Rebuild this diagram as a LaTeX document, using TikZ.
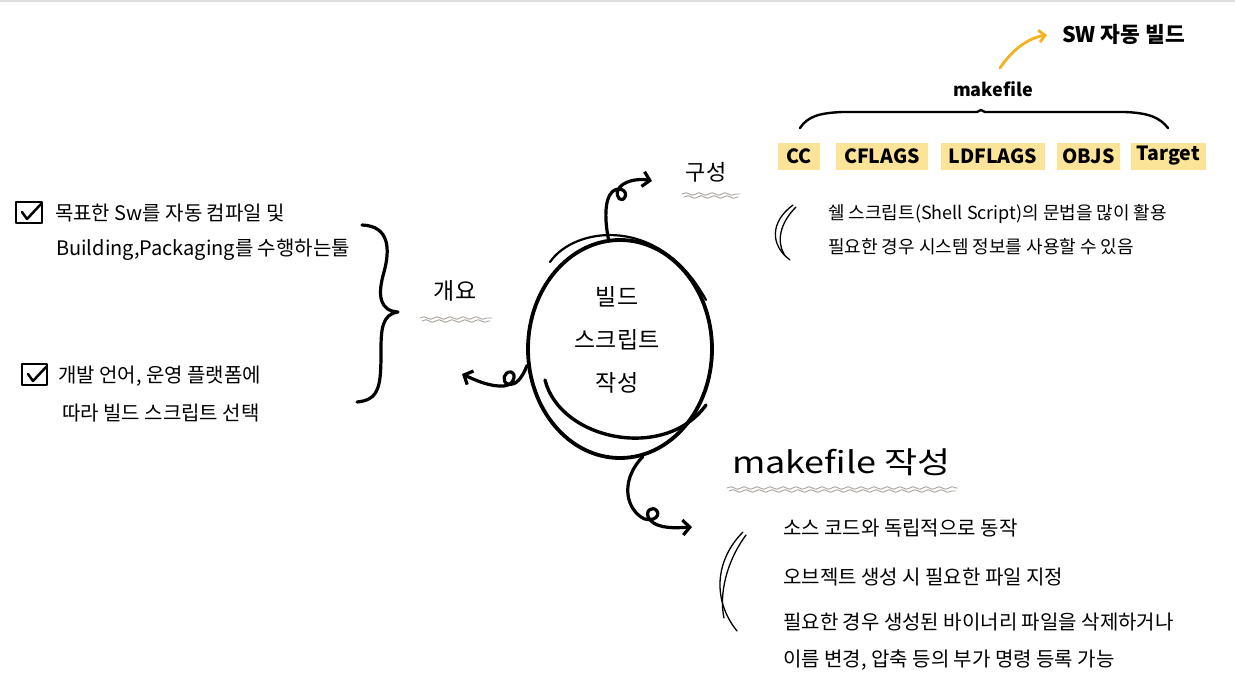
\documentclass[tikz,border=0pt]{standalone}
\usepackage{fontspec}
\usepackage{graphicx}
\newfontfamily\kr{Noto Sans CJK KR}
\usetikzlibrary{arrows.meta,decorations.pathmorphing,shapes.geometric}
\definecolor{hl}{RGB}{251,228,152}
\definecolor{orangec}{RGB}{245,178,30}
\definecolor{wavec}{RGB}{172,165,158}
\tikzset{
  hand/.style={font=\kr\fontsize{20}{23}\selectfont, anchor=west, inner sep=0pt},
  handsm/.style={font=\kr\fontsize{18}{21}\selectfont, anchor=west, inner sep=0pt},
  ybox/.style={fill=hl, minimum height=27pt, inner sep=0pt, font=\kr\bfseries\fontsize{19.5}{22}\selectfont},
  conn/.style={line width=3.2pt, -{Straight Barb[length=7pt,width=15pt]}},
  wavy/.style={draw=wavec, line width=0.9pt, decorate, decoration={snake, amplitude=1.3pt, segment length=13pt}},
  tick/.style={line width=1.3pt},
  chk/.style={line width=2.5pt},
  brace/.style={line width=3.2pt}
}
\begin{document}
\begin{tikzpicture}[x=1pt,y=-1pt,line cap=round,line join=round]
\fill[white] (0,0) rectangle (1235,696);
\useasboundingbox (0,0) rectangle (1235,696);
\draw[gray!25,line width=2pt] (0,1) -- (1235,1);

% top right
\node[font=\kr\bfseries\fontsize{21.5}{24}\selectfont, anchor=west, inner sep=0pt] (sw) at (1062,34) {SW 자동 빌드};
\node[font=\kr\bfseries\fontsize{18}{21}\selectfont, inner sep=0pt] (mkf) at (993,89) {makefile};
\coordinate (orS) at (1000,68);
\coordinate (orT) at (1047,35);
\draw[orangec, line width=2.8pt, -{Straight Barb[length=6pt,width=12pt]}] (orS) .. controls (1012,50) and (1028,38) .. (orT);
\draw[line width=2.4pt] (800,128) .. controls (808,116) and (820,113) .. (842,112) -- (977,112) -- (981,110) -- (985,112) -- (1125,112) .. controls (1150,113) and (1160,118) .. (1168,128);

\node[ybox, minimum width=42pt] (cc) at (799,156) {CC};
\node[ybox, minimum width=92pt] (cfl) at (882,156) {CFLAGS};
\node[ybox, minimum width=104pt] (ldf) at (993,156) {LDFLAGS};
\node[ybox, minimum width=63pt] (objs) at (1088.5,156) {OBJS};
\node[ybox, minimum width=75pt] (tgt) at (1168,156) {Target};

% 구성
\node[font=\kr\fontsize{22}{26}\selectfont, inner sep=0pt] (gs) at (706,172) {구성};
\draw[wavy] (682,194) -- (740,194);
\draw[wavy] (684,197) -- (738,197);
\draw[tick] (793,205) .. controls (770,222) and (770,245) .. (790,260);
\draw[tick] (796,207) .. controls (779,224) and (777,242) .. (784,254);
\node[handsm] (l1) at (828,214) {쉘 스크립트(Shell Script)의 문법을 많이 활용};
\node[handsm] (l2) at (828,247) {필요한 경우 시스템 정보를 사용할 수 있음};

% center
\node[draw, ellipse, line width=3.8pt, minimum width=184pt, minimum height=218pt] (core) at (620,349) {};
\draw[line width=2.2pt] (550,262) .. controls (575,226) and (660,215) .. (706,300);
\draw[line width=3.4pt] (545,380) .. controls (560,440) and (665,462) .. (706,405);
\node[font=\kr\fontsize{23}{43}\selectfont, align=center, inner sep=0pt] (ctext) at (617,340) {빌드\\스크립트\\작성};

\coordinate (topTip) at (652,181);
\coordinate (leftTip) at (462,374);
\coordinate (botTip) at (692,527);
\draw[conn] (core.96) .. controls (605,222) and (604,200) .. (612,192) .. controls (618,186) and (628,190) .. (625,197) .. controls (622,203) and (615,198) .. (618,190) .. controls (622,181) and (638,178) .. (topTip);
\draw[conn] (core.190) .. controls (522,378) and (516,386) .. (508,384) .. controls (501,382) and (504,371) .. (511,372) .. controls (517,374) and (514,385) .. (504,386) .. controls (490,387) and (475,380) .. (leftTip);
\draw[conn] (core.282) .. controls (622,478) and (624,505) .. (641,517) .. controls (649,523) and (661,518) .. (657,511) .. controls (653,505) and (643,511) .. (650,520) .. controls (658,529) and (676,528) .. (botTip);

% 개요
\node[font=\kr\fontsize{23}{26}\selectfont, inner sep=0pt] (gy) at (455,291) {개요};
\draw[wavy] (420,318) -- (492,318);
\draw[wavy] (422,321) -- (490,321);
\draw[brace] (362,225) .. controls (390,226) and (390,250) .. (384,272) .. controls (377,296) and (380,311) .. (398,312) .. controls (382,314) and (381,330) .. (381,350) .. controls (381,385) and (380,400) .. (357,402);

% left items
\draw[chk] (16,202) rectangle (42,223);
\draw[chk] (22,212) -- (27,219) -- (41,204);
\node[hand] (a1) at (55,213) {목표한 Sw를 자동 컴파일 및};
\node[hand] (a2) at (56,250) {Building,Packaging를 수행하는툴};
\draw[chk] (22,364) rectangle (47,385);
\draw[chk] (28,374) -- (33,381) -- (47,366);
\node[hand] (b1) at (58,376) {개발 언어, 운영 플랫폼에};
\node[hand] (b2) at (62,413) {따라 빌드 스크립트 선택};

% makefile 작성
\node[font=\kr\fontsize{30}{34}\selectfont, anchor=west, inner sep=0pt] (mk) at (732,462) {\scalebox{1.2}[1]{makefile 작성}};
\draw[wavy] (727,488) -- (958,488);
\draw[wavy] (729,491) -- (956,491);
\draw[tick] (743,532) .. controls (715,560) and (712,600) .. (737,631);
\draw[tick] (746,535) .. controls (726,562) and (719,595) .. (724,618);
\node[hand] (m1) at (783,528) {소스 코드와 독립적으로 동작};
\node[hand] (m2) at (783,577) {오브젝트 생성 시 필요한 파일 지정};
\node[hand] (m3) at (783,622) {필요한 경우 생성된 바이너리 파일을 삭제하거나};
\node[hand] (m4) at (783,660) {이름 변경, 압축 등의 부가 명령 등록 가능};
\end{tikzpicture}
\end{document}
